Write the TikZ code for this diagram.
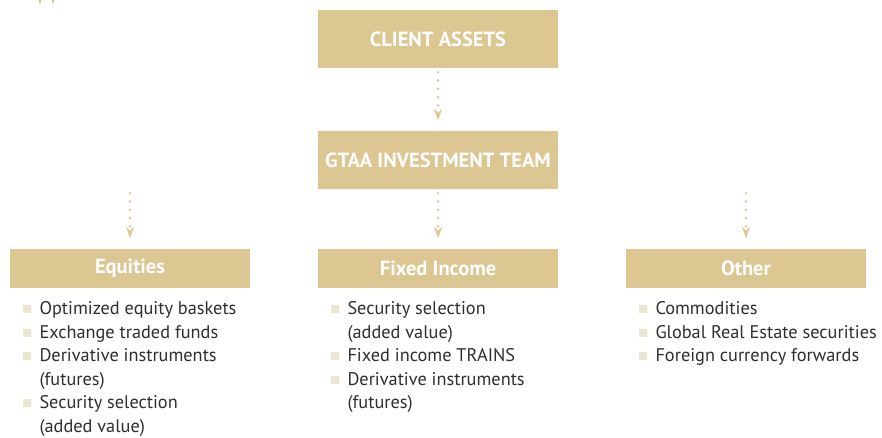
\documentclass[tikz,border=0pt]{standalone}
\usepackage{fontspec}
\setmainfont{PT Sans}
\usetikzlibrary{arrows.meta, positioning}

\definecolor{boxtan}{HTML}{DCC793}
\definecolor{bullettan}{HTML}{EEE5CF}
\definecolor{listgray}{HTML}{2E2E2E}

% small square bullet in front of each list line
\newcommand{\sqbullet}{\textcolor{bullettan}{\rule[1.5pt]{8pt}{8pt}}}

\begin{document}
\begin{tikzpicture}[
        x = 1pt, y = -1pt, % pixel-like grid, y going down
        > = {Stealth[length=11pt, width=8pt, inset=4pt, line width=0.01pt]}, % arrow head style
        box/.style = {fill=boxtan, minimum width=240pt, inner sep=0pt,
                      text=white, font=\bfseries\fontsize{20.5}{24}\selectfont},
        tall/.style = {minimum height=58pt},
        short/.style = {minimum height=39pt},
        flow/.style = {->, boxtan, line width=2.8pt, line cap=round,
                       dash pattern=on 0pt off 8.3pt,
                       shorten <= 4pt, shorten >= 11pt},
        list/.style = {inner sep=0pt, text=listgray,
                       font=\fontsize{18.3}{23.6}\selectfont}
    ]

    \useasboundingbox (0,0) rectangle (882,437);

    % bits of the heading above, cut off at the top edge
    \fill[boxtan] (39,0) rectangle (41,3);
    \fill[boxtan] (52,0) rectangle (54,3);

    \node[box, tall] (client) at (438,39) {CLIENT ASSETS};
    \node[box, tall] (gtaa) at (438,160) {GTAA INVESTMENT TEAM};

    \node[box, short] (equities) at (130,268.5) {Equities};
    \node[box, short] (fixed) at (438,268.5) {Fixed Income};
    \node[box, short] (other) at (746,268.5) {Other};

    \draw[flow] (client) -- (gtaa);
    \draw[flow] (gtaa.south -| equities.north) -- (equities.north);
    \draw[flow] (gtaa.south) -- (fixed.north);
    \draw[flow] (gtaa.south -| other.north) -- (other.north);

    \node[list, below right=9.5pt and 12.5pt of equities.south west] (eqlist) {%
        \begin{tabular}{@{}l@{\hspace{9pt}}l@{}}
            \sqbullet & Optimized equity baskets \\
            \sqbullet & Exchange traded funds \\
            \sqbullet & Derivative instruments \\
                      & (futures) \\
            \sqbullet & Security selection \\
                      & (added value)
        \end{tabular}};

    \node[list, below right=9.5pt and 12.5pt of fixed.south west] (filist) {%
        \begin{tabular}{@{}l@{\hspace{9pt}}l@{}}
            \sqbullet & Security selection \\
                      & (added value) \\
            \sqbullet & Fixed income TRAINS \\
            \sqbullet & Derivative instruments \\
                      & (futures)
        \end{tabular}};

    \node[list, below right=9.5pt and 12.5pt of other.south west] (otlist) {%
        \begin{tabular}{@{}l@{\hspace{9pt}}l@{}}
            \sqbullet & Commodities \\
            \sqbullet & Global Real Estate securities \\
            \sqbullet & Foreign currency forwards
        \end{tabular}};

\end{tikzpicture}
\end{document}
